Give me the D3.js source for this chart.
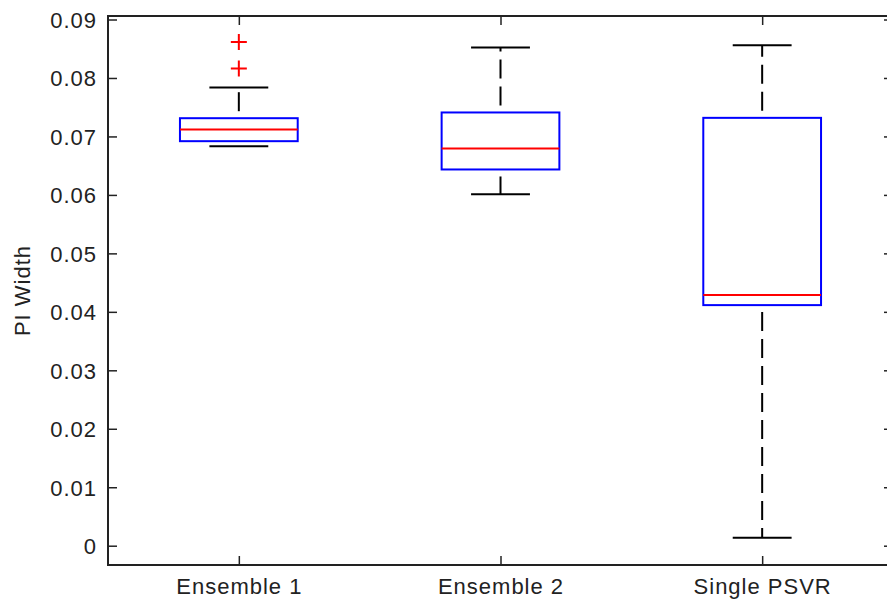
<!DOCTYPE html>
<html><head><meta charset="utf-8">
<script src="https://cdn.jsdelivr.net/npm/d3@7"></script>
<style>
html,body{margin:0;padding:0;background:#fff;overflow:hidden;}
text{font-family:"Liberation Sans",Arial,sans-serif;fill:#222;}
</style></head>
<body>
<svg id="chart" width="887" height="603"></svg>
<script>
const categories = ["Ensemble 1", "Ensemble 2", "Single PSVR"];
const q1Values = [0.06919, 0.06435, 0.04115];
const medianValues = [0.07119, 0.06794, 0.04286];
const q3Values = [0.07312, 0.07410, 0.07318];
const whiskerLow = [0.06834, 0.06013, 0.00137];
const whiskerHigh = [0.07837, 0.08521, 0.08561];
const outlierValues = [[0.08162, 0.08617], [], []];
const yTicks = [0, 0.01, 0.02, 0.03, 0.04, 0.05, 0.06, 0.07, 0.08, 0.09];
const yLabel = "PI Width";

(function () {
const svg = d3.select("#chart");
const pL = 108, pR = 893, pT = 16, pB = 565;
const x = d3.scaleLinear().domain([0.5, 3.5]).range([pL, pR]);
const y = d3.scaleLinear().domain([-0.0033, 0.0906]).range([pB, pT]);
const boxW = 0.45, capW = 0.225;
const tickLen = 9;
const axisColor = "#222";

const g = svg.append("g");

categories.forEach((c, i) => {
  const p = i + 1;
  g.append("line").attr("x1", x(p)).attr("x2", x(p))
    .attr("y1", y(q3Values[i])).attr("y2", y(whiskerHigh[i]))
    .attr("stroke", "#000").attr("stroke-width", 2).attr("stroke-dasharray", "19,8").attr("stroke-dashoffset", -7);
  g.append("line").attr("x1", x(p)).attr("x2", x(p))
    .attr("y1", y(q1Values[i])).attr("y2", y(whiskerLow[i]))
    .attr("stroke", "#000").attr("stroke-width", 2).attr("stroke-dasharray", "19,8").attr("stroke-dashoffset", -7);
  [whiskerHigh[i], whiskerLow[i]].forEach(v => {
    g.append("line").attr("x1", x(p - capW / 2)).attr("x2", x(p + capW / 2))
      .attr("y1", y(v)).attr("y2", y(v))
      .attr("stroke", "#000").attr("stroke-width", 2);
  });
  g.append("rect").attr("x", x(p - boxW / 2)).attr("width", x(p + boxW / 2) - x(p - boxW / 2))
    .attr("y", y(q3Values[i])).attr("height", y(q1Values[i]) - y(q3Values[i]))
    .attr("fill", "none").attr("stroke", "#0000ff").attr("stroke-width", 2);
  g.append("line").attr("x1", x(p - boxW / 2)).attr("x2", x(p + boxW / 2))
    .attr("y1", y(medianValues[i])).attr("y2", y(medianValues[i]))
    .attr("stroke", "#ff0000").attr("stroke-width", 2);
  outlierValues[i].forEach(v => {
    const cx = x(p), cy = y(v), s = 8;
    g.append("path").attr("d", `M${cx - s},${cy}H${cx + s}M${cx},${cy - s}V${cy + s}`)
      .attr("stroke", "#ff0000").attr("stroke-width", 2).attr("fill", "none");
  });
});

svg.append("rect").attr("x", pL).attr("y", pT).attr("width", pR - pL).attr("height", pB - pT)
  .attr("fill", "none").attr("stroke", axisColor).attr("stroke-width", 2);

const yAxis = svg.append("g").attr("transform", `translate(${pL},0)`)
  .call(d3.axisLeft(y).tickValues(yTicks).tickSize(-tickLen).tickPadding(20).tickFormat(d => d === 0 ? "0" : d3.format(".2f")(d)));
yAxis.select(".domain").remove();
yAxis.selectAll(".tick line").attr("stroke", axisColor).attr("stroke-width", 1.5);
yAxis.selectAll(".tick text").attr("font-size", 22).attr("letter-spacing", 1).attr("fill", "#222")
  .attr("font-family", "Liberation Sans, Arial, sans-serif").attr("dy", "0.36em").attr("x", -11);

const yAxisR = svg.append("g").attr("transform", `translate(${pR},0)`)
  .call(d3.axisRight(y).tickValues(yTicks).tickSize(-tickLen).tickFormat(""));
yAxisR.select(".domain").remove();
yAxisR.selectAll(".tick line").attr("stroke", axisColor).attr("stroke-width", 1.5);

const xAxis = svg.append("g").attr("transform", `translate(0,${pB})`)
  .call(d3.axisBottom(x).tickValues([1, 2, 3]).tickSize(-tickLen).tickPadding(14).tickFormat(d => categories[d - 1]));
xAxis.select(".domain").remove();
xAxis.selectAll(".tick line").attr("stroke", axisColor).attr("stroke-width", 1.5);
xAxis.selectAll(".tick text").attr("font-size", 22).attr("letter-spacing", 1).attr("fill", "#222")
  .attr("font-family", "Liberation Sans, Arial, sans-serif").attr("y", 13).attr("dy", "0.71em");

const xAxisT = svg.append("g").attr("transform", `translate(0,${pT})`)
  .call(d3.axisTop(x).tickValues([1, 2, 3]).tickSize(-tickLen).tickFormat(""));
xAxisT.select(".domain").remove();
xAxisT.selectAll(".tick line").attr("stroke", axisColor).attr("stroke-width", 1.5);

svg.append("text").attr("transform", `translate(30,${(pT + pB) / 2}) rotate(-90)`)
  .attr("text-anchor", "middle").attr("font-size", 22).attr("letter-spacing", 1).text(yLabel);
})();
</script>
</body></html>
